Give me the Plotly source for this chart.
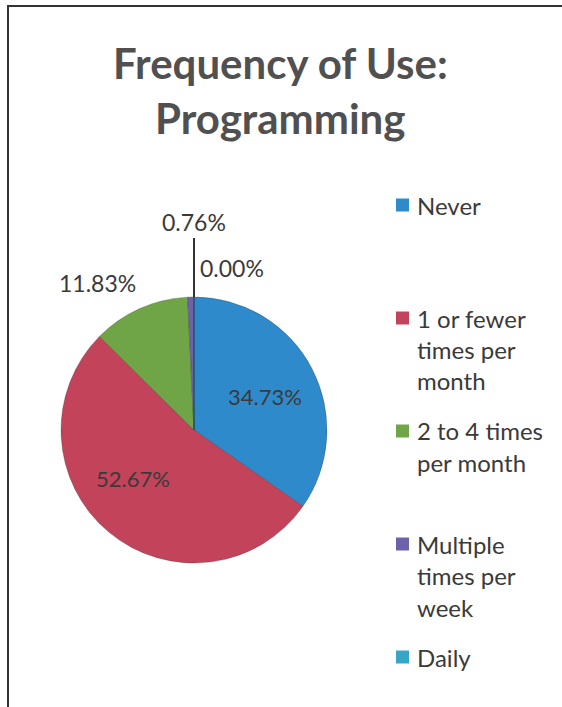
import plotly.graph_objects as go

# ---- data ----
categories = ["Never", "1 or fewer times per month", "2 to 4 times per month",
              "Multiple times per week", "Daily"]
legend_labels = ["Never", "1 or fewer<br>times per<br>month", "2 to 4 times<br>per month",
                 "Multiple<br>times per<br>week", "Daily"]
values = [34.73, 52.67, 11.83, 0.76, 0.00]
colors = ["#2E8ACB", "#C2435A", "#6FA546", "#6B62AA", "#35A6C6"]
title_lines = ["Frequency of Use:", "Programming"]

W, H = 562, 707
FONT = "Lato"
GREY = "#505050"
TXT = "#3a3a3a"


def px_x(x):
    return x / W


def px_y(y):
    return 1 - y / H


# pie geometry (pixels)
cx, cy, r = 194, 430, 133

fig = go.Figure()
fig.add_trace(go.Pie(
    labels=categories,
    values=values,
    sort=False,
    direction="clockwise",
    rotation=0,
    marker=dict(colors=colors, line=dict(color="rgba(40,40,40,0.35)", width=0.8)),
    textinfo="none",
    showlegend=False,
    hoverinfo="label+value",
    domain=dict(x=[px_x(cx - r), px_x(cx + r)], y=[px_y(cy + r), px_y(cy - r)]),
))

annotations = []
# title
for i, line in enumerate(title_lines):
    annotations.append(dict(
        text=f"<b>{line}</b>", x=px_x(280), y=px_y(63 + 55 * i),
        xref="paper", yref="paper", xanchor="center", yanchor="middle",
        showarrow=False, font=dict(family=FONT, size=42, color=GREY)))

# data labels (label placement as in the original Excel layout)
label_pos = [
    (0, 265, 397),
    (1, 133, 478),
    (2, 97, 283),
    (3, 194, 222),
    (4, 232, 268),
]
for idx, lx, ly in label_pos:
    annotations.append(dict(
        text=f"{values[idx]:.2f}%", x=px_x(lx), y=px_y(ly),
        xref="paper", yref="paper", xanchor="center", yanchor="middle",
        showarrow=False, font=dict(family=FONT, size=22 if idx < 2 else 23, color=TXT)))

# legend
leg_x_sq = 396
leg_x_txt = 415
y0, step, lh = 205, 113, 31.5
shapes = []
for i, (lab, col) in enumerate(zip(legend_labels, colors)):
    yy = y0 + step * i
    shapes.append(dict(type="rect", xref="paper", yref="paper",
                       x0=px_x(leg_x_sq), x1=px_x(leg_x_sq + 13),
                       y0=px_y(yy + 6.5), y1=px_y(yy - 6.5),
                       fillcolor=col, line=dict(width=0)))
    for j, part in enumerate(lab.split("<br>")):
        annotations.append(dict(
            text=part, x=px_x(leg_x_txt), y=px_y(yy + lh * j),
            xref="paper", yref="paper", xanchor="left", yanchor="middle",
            showarrow=False, font=dict(family=FONT, size=24, color=TXT)))

# leader line for 0.76%
shapes.append(dict(type="line", xref="paper", yref="paper",
                   x0=px_x(cx), x1=px_x(cx), y0=px_y(cy - r), y1=px_y(238),
                   line=dict(color="#333333", width=2)))

# outer frame
shapes.append(dict(type="rect", xref="paper", yref="paper",
                   x0=px_x(8), x1=1.1, y0=-0.1, y1=px_y(6),
                   line=dict(color="#333333", width=2), fillcolor="rgba(0,0,0,0)"))

fig.update_layout(
    width=W, height=H,
    margin=dict(l=0, r=0, t=0, b=0),
    paper_bgcolor="white", plot_bgcolor="white",
    annotations=annotations, shapes=shapes,
)

fig.write_html("out.html")
